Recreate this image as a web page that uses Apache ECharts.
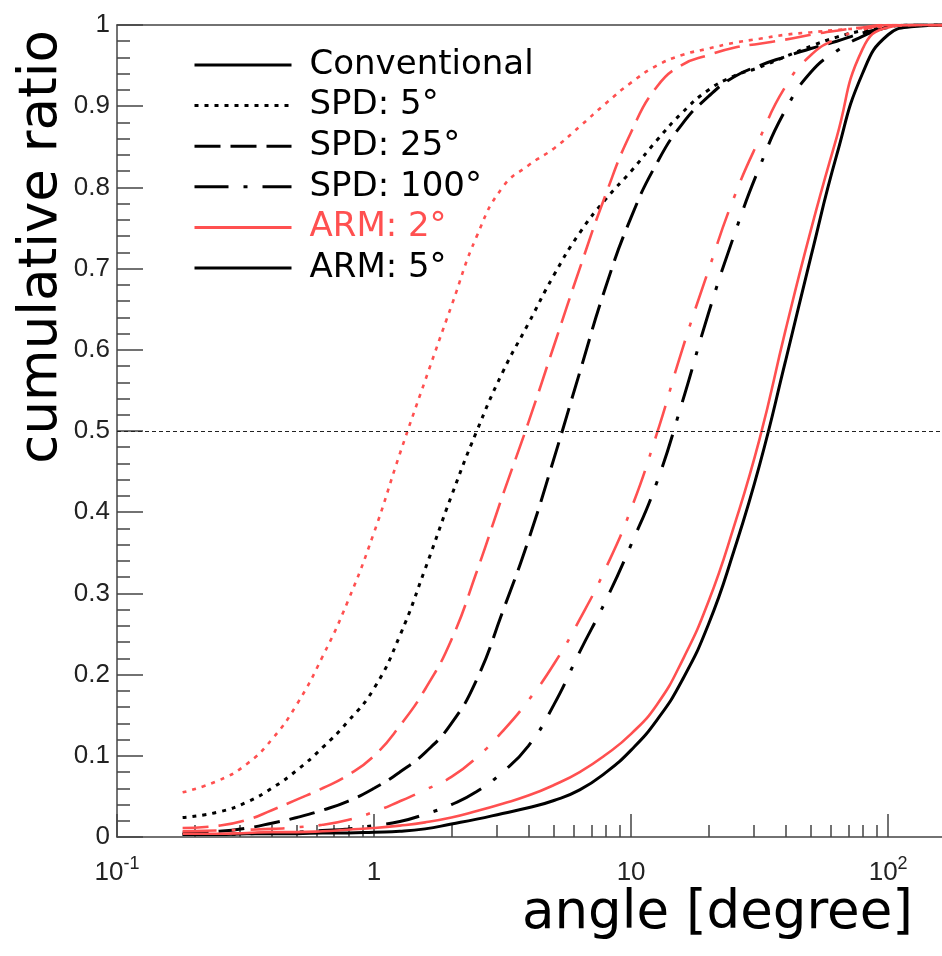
<!DOCTYPE html>
<html>
<head>
<meta charset="utf-8" />
<title>cumulative ratio</title>
<script src="https://cdn.jsdelivr.net/npm/echarts@6/dist/echarts.min.js"></script>
<style>
  html, body { margin: 0; padding: 0; background: #fff; }
  #chart { width: 942px; height: 956px; }
</style>
</head>
<body>
<div id="chart"></div>
<script>
// angle [degree] sample points (about 0.1 decade apart), shared by all curves
var angles = [0.18, 0.25, 0.32, 0.4, 0.5, 0.63, 0.79, 1, 1.26, 1.58, 2, 2.51, 3.16, 3.98, 5.01, 6.31, 7.94, 10, 12.6, 15.8, 20, 25.1, 31.6, 39.8, 50.1, 63.1, 79.4, 100, 126, 162];

// cumulative ratio, one value per angle
var conventional = [0.003,0.003,0.004,0.004,0.004,0.005,0.005,0.006,0.007,0.01,0.016,0.022,0.029,0.036,0.045,0.058,0.079,0.107,0.144,0.193,0.262,0.352,0.458,0.585,0.715,0.84,0.94,0.988,0.998,1];
var spd5 = [0.024,0.031,0.043,0.06,0.082,0.11,0.142,0.183,0.248,0.33,0.42,0.5,0.572,0.632,0.692,0.744,0.785,0.82,0.858,0.892,0.92,0.937,0.948,0.961,0.974,0.985,0.993,0.998,1,1];
var spd25 = [0.005,0.007,0.011,0.017,0.024,0.033,0.044,0.06,0.08,0.104,0.14,0.194,0.277,0.365,0.466,0.572,0.676,0.763,0.83,0.878,0.912,0.936,0.95,0.961,0.971,0.98,0.99,0.997,1,1];
var spd100 = [0.003,0.003,0.004,0.005,0.006,0.008,0.01,0.014,0.019,0.028,0.04,0.056,0.08,0.112,0.163,0.228,0.29,0.36,0.437,0.535,0.645,0.74,0.825,0.895,0.942,0.968,0.986,0.997,1,1];
var arm2 = [0.004,0.004,0.005,0.006,0.006,0.007,0.009,0.011,0.014,0.018,0.024,0.032,0.041,0.051,0.064,0.08,0.101,0.127,0.163,0.217,0.29,0.382,0.49,0.623,0.748,0.862,0.97,0.997,1,1];
var arm2Spd5 = [0.055,0.07,0.09,0.12,0.163,0.222,0.29,0.375,0.472,0.562,0.654,0.74,0.8,0.827,0.848,0.875,0.903,0.929,0.95,0.963,0.971,0.978,0.983,0.988,0.991,0.994,0.996,0.998,1,1];
var arm2Spd25 = [0.011,0.014,0.021,0.033,0.046,0.06,0.076,0.1,0.137,0.182,0.243,0.327,0.42,0.51,0.605,0.7,0.79,0.868,0.924,0.951,0.963,0.972,0.977,0.982,0.988,0.993,0.997,1,1,1];
var arm2Spd100 = [0.007,0.008,0.009,0.01,0.012,0.015,0.021,0.031,0.044,0.058,0.074,0.098,0.13,0.168,0.213,0.268,0.33,0.404,0.497,0.6,0.698,0.787,0.86,0.924,0.963,0.983,0.994,1,1,1];

var legendNames = ['Conventional', 'SPD: 5°', 'SPD: 25°', 'SPD: 100°', 'ARM: 2°', 'ARM: 5°'];
var xMajorTicks = [0.1, 1, 10, 100];
var xMajorLabels = ['10{sup|-1}', '1', '10', '10{sup|2}'];
var xMinorTicks = [0.2,0.3,0.4,0.5,0.6,0.7,0.8,0.9, 2,3,4,5,6,7,8,9, 20,30,40,50,60,70,80,90];

var red = '#ff5050';
var black = '#000';
var dotted = [4, 6];
var dashed = [26, 10];
var dashDot = [34, 15, 4, 15];

var myChart = echarts.init(document.getElementById('chart'));

function pairs(values) {
	return values.map(function(v, i) { return [angles[i], v]; });
}

function line(name, values, color, type, width) {
	return {
		name: name,
		type: 'line',
		data: pairs(values),
		showSymbol: false,
		symbol: 'none',
		smooth: 0.5,
		lineStyle: { color: color, width: width, type: type, cap: 'butt' },
		itemStyle: { color: color },
		z: 3
	};
}

var series = [
	line('Conventional', conventional, black, 'solid', 3),
	line('SPD: 5°', spd5, black, dotted, 3),
	line('SPD: 25°', spd25, black, dashed, 3),
	line('SPD: 100°', spd100, black, dashDot, 3),
	line('ARM: 2°', arm2, red, 'solid', 2.6),
	line('ARM: 2°, SPD: 5°', arm2Spd5, red, dotted, 2.6),
	line('ARM: 2°, SPD: 25°', arm2Spd25, red, dashed, 2.6),
	line('ARM: 2°, SPD: 100°', arm2Spd100, red, dashDot, 2.6),
	line('ARM: 5°', [], black, 'solid', 3)
];
// horizontal line at 0.5
series[0].markLine = {
	silent: true,
	symbol: ['none', 'none'],
	label: { show: false },
	lineStyle: { color: '#222', width: 1, type: [4, 3] },
	data: [{ yAxis: 0.5 }]
};

var axisColor = '#444';
var labelFont = { fontFamily: 'Liberation Sans', fontSize: 26, color: '#222' };

myChart.setOption({
	backgroundColor: '#fff',
	animation: false,
	grid: [
		{ left: 117, right: 0, top: 25, bottom: 119 },
		{ left: 117, right: 0, top: 25, bottom: 119 }
	],
	legend: {
		orient: 'vertical',
		left: 193,
		top: 48,
		padding: 0,
		itemWidth: 97,
		itemHeight: 34,
		itemGap: 6.6,
		selectedMode: false,
		itemStyle: { opacity: 0 },
		lineStyle: { width: 3 },
		textStyle: { fontFamily: 'DejaVu Sans', fontSize: 34, lineHeight: 34, color: '#000', padding: [0, 0, 0, 13] },
		data: legendNames.map(function(n) {
			return n === 'ARM: 2°' ? { name: n, textStyle: { color: red } } : { name: n };
		})
	},
	xAxis: [{
		type: 'log',
		gridIndex: 0,
		position: 'bottom',
		min: 0.1,
		max: 162,
		axisLine: { show: true, lineStyle: { color: axisColor, width: 1.5 } },
		axisTick: { show: true, inside: true, length: 23, customValues: xMajorTicks, lineStyle: { color: axisColor, width: 1.5 } },
		axisLabel: {
			show: true,
			customValues: xMajorTicks,
			margin: 18,
			lineHeight: 36,
			fontFamily: labelFont.fontFamily,
			fontSize: labelFont.fontSize,
			color: labelFont.color,
			formatter: function(v) {
				for (var i = 0; i < xMajorTicks.length; i++) {
					if (Math.abs(v / xMajorTicks[i] - 1) < 1e-6) return xMajorLabels[i];
				}
				return '';
			},
			rich: {
				sup: { fontFamily: 'Liberation Sans', fontSize: 18, color: '#222', verticalAlign: 'top', lineHeight: 18 }
			}
		},
		splitLine: { show: false }
	}, {
		type: 'log',
		gridIndex: 0,
		position: 'top',
		min: 0.1,
		max: 162,
		axisLine: { show: true, lineStyle: { color: axisColor, width: 1.5 } },
		axisTick: { show: false },
		axisLabel: { show: false },
		splitLine: { show: false }
	}, {
		type: 'log',
		gridIndex: 1,
		position: 'bottom',
		min: 0.1,
		max: 162,
		axisLine: { show: false },
		axisTick: { show: true, inside: true, length: 12, customValues: xMinorTicks, lineStyle: { color: axisColor, width: 1.5 } },
		axisLabel: { show: false },
		splitLine: { show: false }
	}],
	yAxis: [{
		type: 'value',
		gridIndex: 0,
		min: 0,
		max: 1,
		interval: 0.1,
		axisLine: { show: true, lineStyle: { color: axisColor, width: 1.5 } },
		axisTick: { show: true, inside: true, length: 26, lineStyle: { color: axisColor, width: 1.5 } },
		minorTick: { show: true, splitNumber: 5, length: 13, lineStyle: { color: axisColor, width: 1.5 } },
		axisLabel: { margin: 7, fontFamily: labelFont.fontFamily, fontSize: labelFont.fontSize, color: labelFont.color },
		splitLine: { show: false }
	}, {
		type: 'value',
		gridIndex: 1,
		min: 0,
		max: 1,
		show: false
	}],
	graphic: [{
		type: 'text',
		right: 29,
		top: 888,
		style: { text: 'angle [degree]', fontFamily: 'DejaVu Sans', fontSize: 53, fill: '#000' }
	}, {
		type: 'text',
		x: 42,
		y: 30,
		rotation: Math.PI / 2,
		style: { text: 'cumulative ratio', fontFamily: 'DejaVu Sans', fontSize: 53, fill: '#000', align: 'right', verticalAlign: 'middle' }
	}],
	series: series
});

window.onresize = function() {
	myChart.resize();
};
</script>
</body>
</html>
